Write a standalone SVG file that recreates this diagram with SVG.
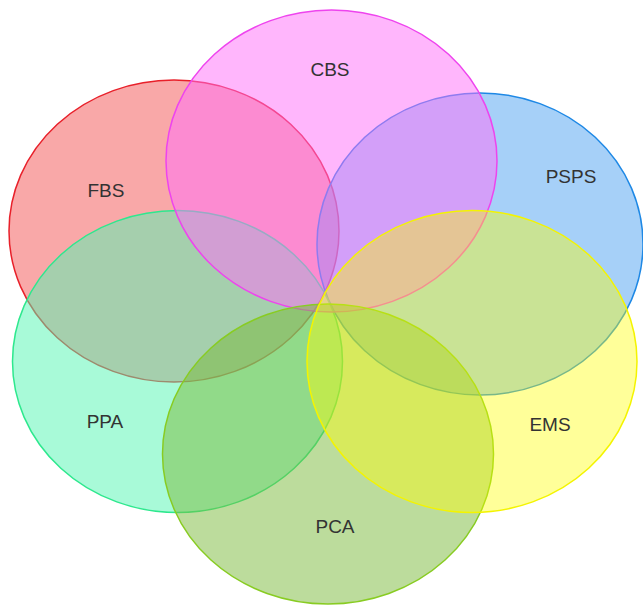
<svg xmlns="http://www.w3.org/2000/svg" width="643" height="606" viewBox="0 0 643 606">
<style>
.set{stroke-width:1.5}
.lbl{font-family:"Liberation Sans",Arial,sans-serif;font-size:19px;fill:#333;text-anchor:middle}
</style>
<rect width="643" height="606" fill="#fff"/>
<g id="FBS"><ellipse class="set" cx="174" cy="231" rx="165" ry="151" fill="rgba(243,81,81,0.5)" stroke="#e8202a"/><text class="lbl" x="106" y="197">FBS</text></g>
<g id="PSPS"><ellipse class="set" cx="480" cy="244" rx="163" ry="151" fill="rgba(77,161,241,0.5)" stroke="#1e88e5"/><text class="lbl" x="571" y="183">PSPS</text></g>
<g id="PPA"><ellipse class="set" cx="177.5" cy="361.5" rx="165" ry="151" fill="rgba(81,245,177,0.5)" stroke="#2ee88e"/><text class="lbl" x="105" y="428">PPA</text></g>
<g id="CBS"><ellipse class="set" cx="331.5" cy="161" rx="165.5" ry="151" fill="rgba(255,109,249,0.5)" stroke="#ee44ee"/><text class="lbl" x="330" y="76">CBS</text></g>
<g id="PCA"><ellipse class="set" cx="328" cy="454" rx="165.5" ry="150" fill="rgba(121,185,57,0.5)" stroke="#88cc22"/><text class="lbl" x="335" y="533">PCA</text></g>
<g id="EMS"><ellipse class="set" cx="472" cy="361.5" rx="165" ry="151" fill="rgba(255,255,0,0.4)" stroke="#f4f400"/><text class="lbl" x="550" y="431">EMS</text></g>
<g id="connectors"></g>
</svg>
